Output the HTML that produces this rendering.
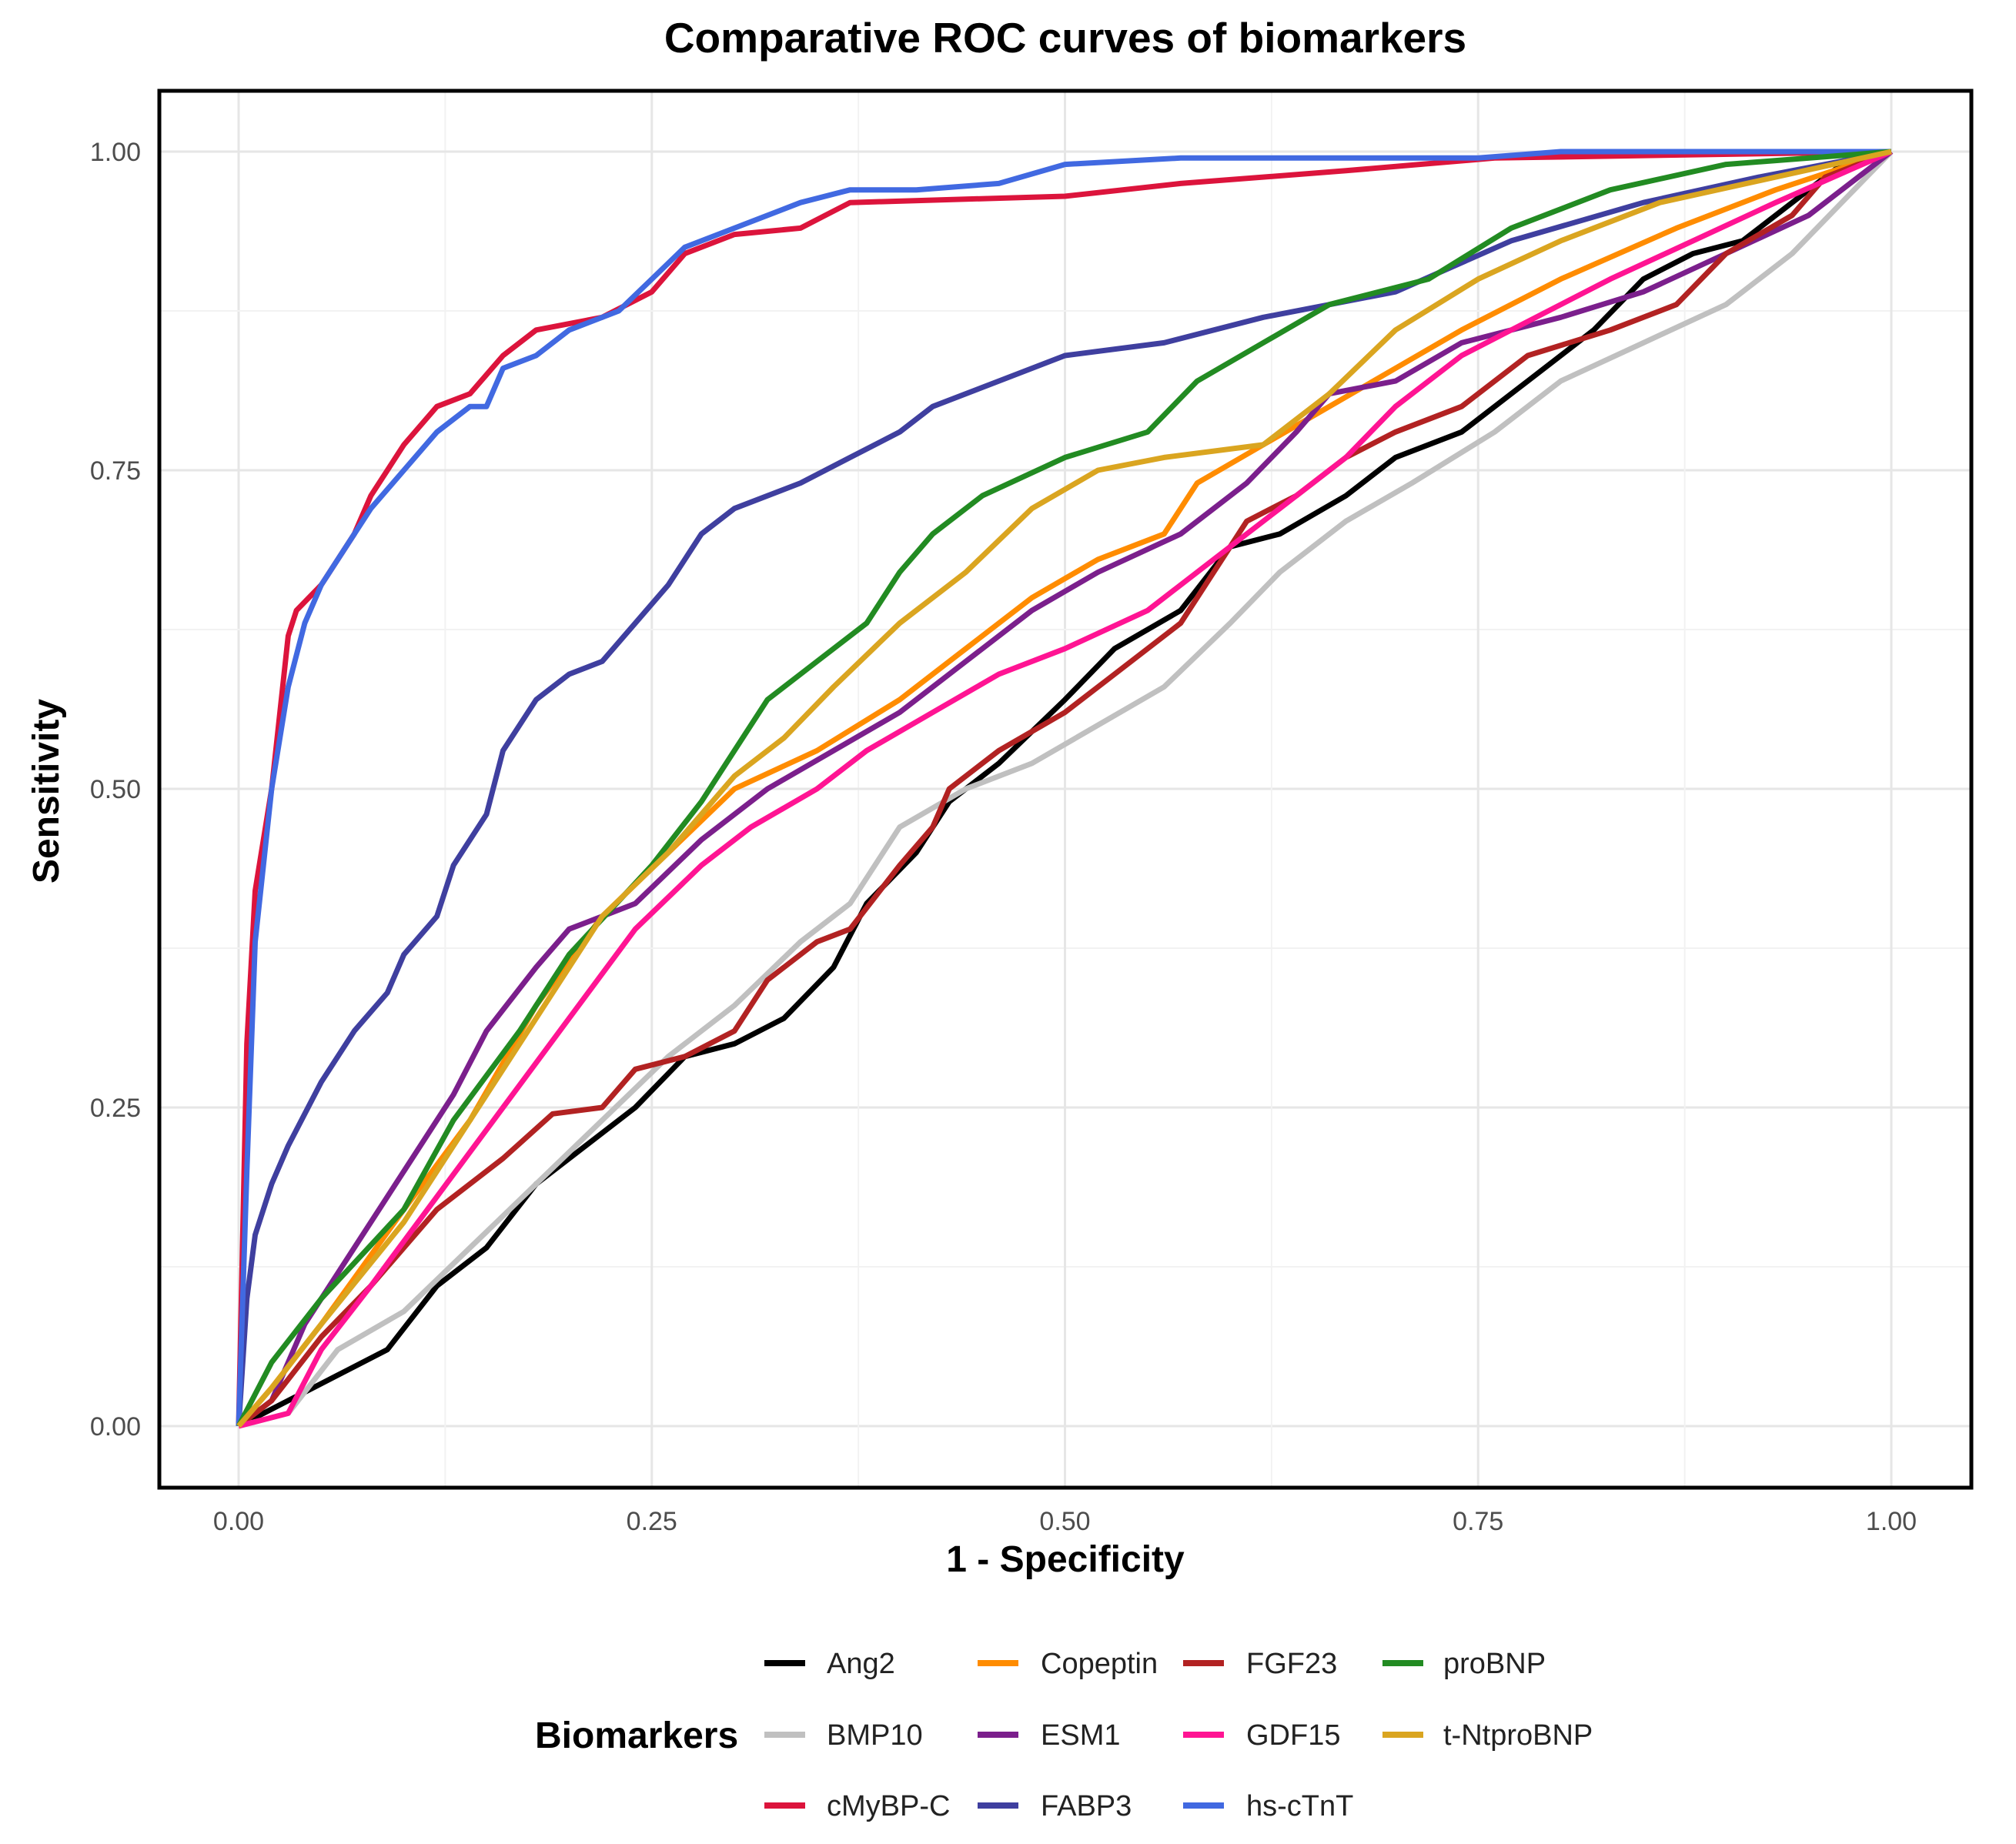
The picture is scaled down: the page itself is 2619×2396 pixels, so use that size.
<!DOCTYPE html>
<html><head><meta charset="utf-8"><style>
html,body{margin:0;padding:0;background:#fff;}
svg{display:block;font-family:"Liberation Sans",sans-serif;}
</style></head><body>
<svg id="chart" width="2619" height="2396" viewBox="0 0 2619 2396" xmlns="http://www.w3.org/2000/svg">
<rect width="2619" height="2396" fill="#fff"/>
<text x="1384" y="68" text-anchor="middle" font-size="55" font-weight="bold" fill="#000">Comparative ROC curves of biomarkers</text>
<g id="grid"></g>
<g id="series"></g>
<rect x="207" y="118" width="2354" height="1815" fill="none" stroke="#000" stroke-width="5"/>
<g id="axes"></g>
<text x="1384" y="2042" text-anchor="middle" font-size="48" font-weight="bold" fill="#000">1 - Specificity</text>
<text transform="translate(76,1028) rotate(-90)" text-anchor="middle" font-size="48" font-weight="bold" fill="#000">Sensitivity</text>
<text x="695" y="2271" font-size="48" font-weight="bold" fill="#000">Biomarkers</text>
<g id="legend"></g>
</svg>
<script>
const tickValues = [0, 0.25, 0.5, 0.75, 1];
const tickLabels = ["0.00", "0.25", "0.50", "0.75", "1.00"];
const seriesNames = ["Ang2","BMP10","cMyBP-C","Copeptin","ESM1","FABP3","FGF23","GDF15","hs-cTnT","proBNP","t-NtproBNP"];
const seriesColors = ["#000000","#c0c0c0","#dc143c","#ff8c00","#7b1f8c","#3f3f9f","#b22222","#ff1493","#4169e1","#228b22","#daa520"];
const ang2X = [0,0.03,0.06,0.09,0.12,0.15,0.18,0.21,0.24,0.27,0.3,0.33,0.36,0.38,0.41,0.43,0.46,0.5,0.53,0.57,0.6,0.63,0.67,0.7,0.74,0.78,0.82,0.85,0.88,0.91,0.95,0.97,1];
const ang2Y = [0,0.02,0.04,0.06,0.11,0.14,0.19,0.22,0.25,0.29,0.3,0.32,0.36,0.41,0.45,0.49,0.52,0.57,0.61,0.64,0.69,0.7,0.73,0.76,0.78,0.82,0.86,0.9,0.92,0.93,0.97,0.99,1];
const bmp10X = [0,0.03,0.06,0.1,0.14,0.18,0.22,0.26,0.3,0.34,0.37,0.4,0.44,0.48,0.52,0.56,0.6,0.63,0.67,0.71,0.76,0.8,0.85,0.9,0.94,0.97,1];
const bmp10Y = [0,0.01,0.06,0.09,0.14,0.19,0.24,0.29,0.33,0.38,0.41,0.47,0.5,0.52,0.55,0.58,0.63,0.67,0.71,0.74,0.78,0.82,0.85,0.88,0.92,0.96,1];
const cmybpcX = [0,0.005,0.01,0.02,0.03,0.035,0.05,0.07,0.08,0.1,0.12,0.14,0.16,0.18,0.22,0.25,0.27,0.3,0.34,0.37,0.5,0.57,0.67,0.76,1];
const cmybpcY = [0,0.3,0.42,0.5,0.62,0.64,0.66,0.7,0.73,0.77,0.8,0.81,0.84,0.86,0.87,0.89,0.92,0.935,0.94,0.96,0.965,0.975,0.985,0.995,1];
const copeptinX = [0,0.02,0.05,0.1,0.14,0.18,0.22,0.26,0.3,0.35,0.4,0.44,0.48,0.52,0.56,0.58,0.62,0.66,0.7,0.74,0.8,0.87,0.93,1];
const copeptinY = [0,0.03,0.08,0.17,0.24,0.33,0.4,0.45,0.5,0.53,0.57,0.61,0.65,0.68,0.7,0.74,0.77,0.8,0.83,0.86,0.9,0.94,0.97,1];
const esm1X = [0,0.02,0.04,0.07,0.1,0.13,0.15,0.18,0.2,0.24,0.28,0.32,0.36,0.4,0.44,0.48,0.52,0.57,0.61,0.64,0.66,0.7,0.74,0.8,0.85,0.9,0.95,1];
const esm1Y = [0,0.02,0.08,0.14,0.2,0.26,0.31,0.36,0.39,0.41,0.46,0.5,0.53,0.56,0.6,0.64,0.67,0.7,0.74,0.78,0.81,0.82,0.85,0.87,0.89,0.92,0.95,1];
const fabp3X = [0,0.005,0.01,0.02,0.03,0.05,0.07,0.09,0.1,0.12,0.13,0.15,0.16,0.18,0.2,0.22,0.24,0.26,0.28,0.3,0.34,0.37,0.4,0.42,0.46,0.5,0.56,0.62,0.7,0.77,0.85,0.92,1];
const fabp3Y = [0,0.1,0.15,0.19,0.22,0.27,0.31,0.34,0.37,0.4,0.44,0.48,0.53,0.57,0.59,0.6,0.63,0.66,0.7,0.72,0.74,0.76,0.78,0.8,0.82,0.84,0.85,0.87,0.89,0.93,0.96,0.98,1];
const fgf23X = [0,0.02,0.05,0.08,0.12,0.16,0.19,0.22,0.24,0.27,0.3,0.32,0.35,0.37,0.4,0.42,0.43,0.46,0.5,0.53,0.57,0.59,0.61,0.64,0.67,0.7,0.74,0.78,0.83,0.87,0.9,0.94,0.96,1];
const fgf23Y = [0,0.02,0.07,0.11,0.17,0.21,0.245,0.25,0.28,0.29,0.31,0.35,0.38,0.39,0.44,0.47,0.5,0.53,0.56,0.59,0.63,0.67,0.71,0.73,0.76,0.78,0.8,0.84,0.86,0.88,0.92,0.95,0.98,1];
const gdf15X = [0,0.03,0.05,0.08,0.12,0.16,0.2,0.24,0.28,0.31,0.35,0.38,0.42,0.46,0.5,0.55,0.59,0.63,0.67,0.7,0.74,0.77,0.83,0.88,0.93,1];
const gdf15Y = [0,0.01,0.06,0.11,0.18,0.25,0.32,0.39,0.44,0.47,0.5,0.53,0.56,0.59,0.61,0.64,0.68,0.72,0.76,0.8,0.84,0.86,0.9,0.93,0.96,1];
const hsctntX = [0,0.005,0.01,0.02,0.03,0.04,0.05,0.07,0.08,0.1,0.12,0.14,0.15,0.16,0.18,0.2,0.23,0.25,0.27,0.3,0.34,0.37,0.41,0.46,0.5,0.57,0.75,0.8,1];
const hsctntY = [0,0.2,0.38,0.5,0.58,0.63,0.66,0.7,0.72,0.75,0.78,0.8,0.8,0.83,0.84,0.86,0.875,0.9,0.925,0.94,0.96,0.97,0.97,0.975,0.99,0.995,0.995,1,1];
const probnpX = [0,0.02,0.05,0.1,0.13,0.17,0.2,0.25,0.28,0.3,0.32,0.35,0.38,0.4,0.42,0.45,0.5,0.55,0.58,0.62,0.66,0.72,0.77,0.83,0.9,1];
const probnpY = [0,0.05,0.1,0.17,0.24,0.31,0.37,0.44,0.49,0.53,0.57,0.6,0.63,0.67,0.7,0.73,0.76,0.78,0.82,0.85,0.88,0.9,0.94,0.97,0.99,1];
const tntprobnpX = [0,0.02,0.05,0.1,0.14,0.18,0.22,0.26,0.3,0.33,0.36,0.4,0.44,0.48,0.52,0.56,0.62,0.66,0.7,0.75,0.8,0.86,0.93,1];
const tntprobnpY = [0,0.03,0.08,0.16,0.24,0.32,0.4,0.45,0.51,0.54,0.58,0.63,0.67,0.72,0.75,0.76,0.77,0.81,0.86,0.9,0.93,0.96,0.98,1];
const seriesX = [ang2X,bmp10X,cmybpcX,copeptinX,esm1X,fabp3X,fgf23X,gdf15X,hsctntX,probnpX,tntprobnpX];
const seriesY = [ang2Y,bmp10Y,cmybpcY,copeptinY,esm1Y,fabp3Y,fgf23Y,gdf15Y,hsctntY,probnpY,tntprobnpY];

const NS = "http://www.w3.org/2000/svg";
const X0 = 310, X1 = 2457, Y0 = 1853, Y1 = 197;
function xScale(v){ return X0 + v*(X1-X0); }
function yScale(v){ return Y0 - v*(Y0-Y1); }
function mk(tag, attrs, parent){ const e=document.createElementNS(NS,tag); for(const k in attrs) e.setAttribute(k,attrs[k]); parent.appendChild(e); return e; }

const grid = document.getElementById('grid');
for (let i=0;i<9;i++){
  const v=i/8, major=i%2===0;
  const gx = mk('line',{x1:xScale(v),x2:xScale(v),y1:120,y2:1931,stroke:major?'#e6e6e6':'#f2f2f2','stroke-width':major?3:2},grid);
  
  
  const gy = mk('line',{x1:209,x2:2559,y1:yScale(v),y2:yScale(v),stroke:major?'#e6e6e6':'#f2f2f2','stroke-width':major?3:2},grid);
  
  
}
const axes = document.getElementById('axes');
tickValues.forEach((v,i)=>{
  const tx = mk('text',{x:xScale(v),y:1988,'text-anchor':'middle','font-size':34,fill:'#4d4d4d'},axes);
  tx.textContent = tickLabels[i];
  
  
  const ty = mk('text',{x:183,y:yScale(v)+12,'text-anchor':'end','font-size':34,fill:'#4d4d4d'},axes);
  ty.textContent = tickLabels[i];
  
  
});
const sg = document.getElementById('series');
seriesNames.forEach((n,i)=>{
  const pts = seriesX[i].map((x,j)=>xScale(x).toFixed(1)+','+yScale(seriesY[i][j]).toFixed(1)).join(' ');
  const pl = mk('polyline',{points:pts,fill:'none',stroke:seriesColors[i],'stroke-width':7,'stroke-linejoin':'round'},sg);
  
  
});
const lg = document.getElementById('legend');
const colKeyX = [993,1270,1537,1796], colLabelX = [1074,1352,1619,1875], rowY = [2161,2254,2346];
seriesNames.forEach((n,i)=>{
  const c = Math.floor(i/3), r = i%3;
  const g = mk('g',{},lg);
  
  
  mk('line',{x1:colKeyX[c],x2:colKeyX[c]+53,y1:rowY[r],y2:rowY[r],stroke:seriesColors[i],'stroke-width':8},g);
  const t = mk('text',{x:colLabelX[c],y:rowY[r]+13,'font-size':38,fill:'#222'},g);
  t.textContent = n;
});
</script>
</body></html>
